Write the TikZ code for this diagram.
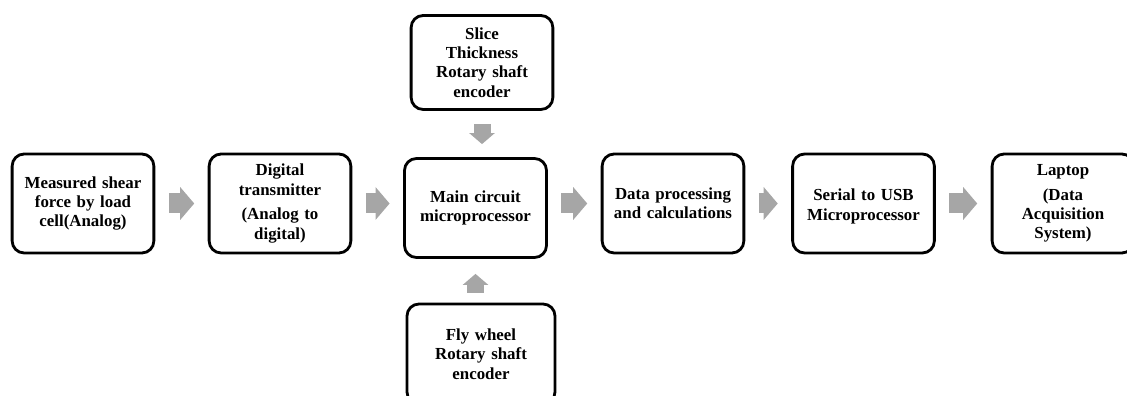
\documentclass[tikz,border=0pt]{standalone}
\usepackage{fontspec}
\setmainfont{Liberation Serif}
\usepackage{tikz}
\usetikzlibrary{arrows.meta}

\definecolor{flowgray}{HTML}{A6A6A6}

\tikzset{
  block/.style={draw, line width=1.6pt, rounded corners=0.24cm, align=center,
    minimum width=2.8cm, minimum height=1.98cm, text width=2.6cm,
    font=\bfseries\fontsize{9.6}{11}\selectfont},
  flow/.style={draw=flowgray, line width=0.4cm,
    -{Triangle[length=0.28cm, width=0.64cm]}, shorten <=0.27cm, shorten >=0.27cm},
  vflow/.style={draw=flowgray, line width=0.34cm,
    -{Triangle[length=0.22cm, width=0.5cm]}}
}

\begin{document}
\begin{tikzpicture}
\clip (0,0) rectangle (22.54,-7.92);
% main chain
\node[block] (load) at (1.66,-4.07) {Measured shear\\force by load\\cell(Analog)};
\node[block] (trans) at (5.60,-4.07) {Digital\\transmitter\\[3pt](Analog to\\digital)};
\node[block, minimum width=2.84cm] (main) at (9.51,-4.16) {Main circuit\\microprocessor};
\node[block] (proc) at (13.46,-4.07) {Data processing\\and calculations};
\node[block] (usb) at (17.27,-4.07) {\mbox{}\\[-1pt]Serial to USB\\Microprocessor};
\node[block] (laptop) at (21.26,-4.07) {Laptop\\[3pt](Data\\Acquisition\\System)};
% encoders
\node[block, minimum width=2.76cm, minimum height=1.88cm] (slice) at (9.64,-1.25) {Slice\\Thickness\\Rotary shaft\\encoder};
\node[block, minimum width=2.96cm, minimum height=2.0cm] (fly) at (9.62,-7.08) {Fly wheel\\Rotary shaft\\encoder};

\draw[flow] (load.east) -- (trans.west);
\draw[flow] (trans.east) -- (trans.east -| main.west);
\draw[flow] (main.east |- proc.east) -- (proc.west);
\draw[flow] (proc.east) -- (usb.west);
\draw[flow] (usb.east) -- (laptop.west);
\draw[vflow, shorten <=0.26cm, shorten >=0.26cm] (slice.south) -- (slice.south |- main.north);
\draw[vflow, shorten <=0.2cm, shorten >=0.3cm] (main.south |- fly.north) -- (main.south);
\end{tikzpicture}
\end{document}
